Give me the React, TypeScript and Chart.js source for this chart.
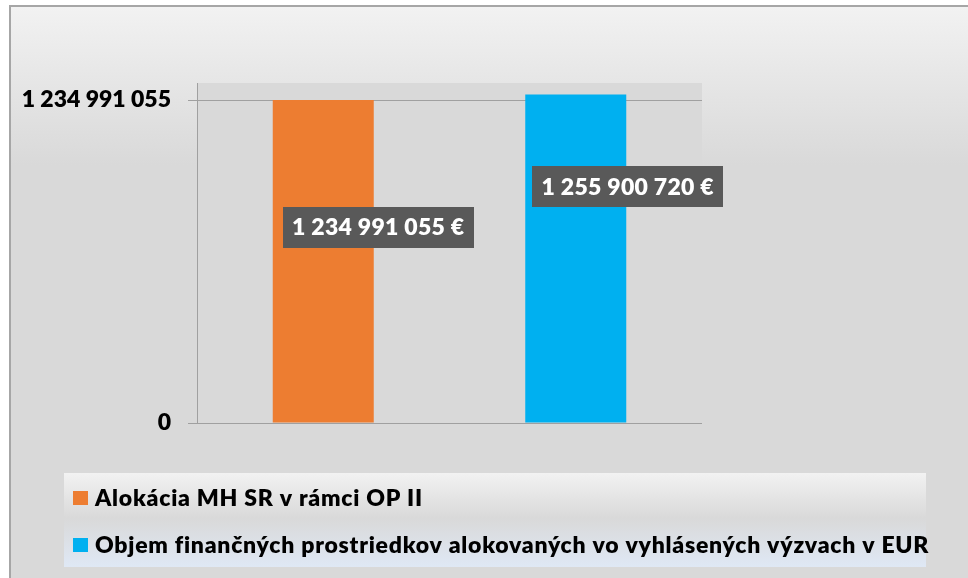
import React, { useEffect, useRef } from "react";
import { Chart, registerables } from "chart.js";

Chart.register(...registerables);

// ---- data ----
const categories = ["Alokácia", "Objem"];
const seriesNames = [
  "Alokácia MH SR v rámci OP II",
  "Objem finančných prostriedkov alokovaných vo vyhlásených výzvach v EUR",
];
const allocationValues: (number | null)[] = [1234991055, null];
const callsValues: (number | null)[] = [null, 1255900720];
const yTickValues = [0, 1234991055];
const yMax = 1300000000;

// ---- styles ----
const COLORS = ["#ED7D31", "#00B0F0"];
const FONT = "Lato, 'Open Sans', sans-serif";
const WEIGHT = "800";
const AXIS_GRAY = "#a0a0a0";
const LABEL_OFFSETS = [
  { dx: 55, dy: 127 },
  { dx: 52, dy: 92 },
];

const fmt = (v: number) =>
  String(Math.round(v)).replace(/\B(?=(\d{3})+(?!\d))/g, " ");

const backgroundPlugin = {
  id: "bgPlugin",
  beforeDraw(chart: any) {
    const { ctx, width, height, chartArea } = chart;
    ctx.save();
    ctx.fillStyle = "#ffffff";
    ctx.fillRect(0, 0, width, height);
    const g = ctx.createLinearGradient(0, 6, 0, 165);
    g.addColorStop(0, "#f2f2f2");
    g.addColorStop(1, "#d9d9d9");
    ctx.fillStyle = g;
    ctx.fillRect(10, 6, width - 10, height - 6);
    // border
    ctx.fillStyle = "#a6a6a6";
    ctx.fillRect(9, 5, width - 9, 2);
    ctx.fillRect(9, 5, 2, height - 5);
    // plot area
    ctx.fillStyle = "#d9d9d9";
    ctx.fillRect(
      chartArea.left,
      chartArea.top,
      chartArea.right - chartArea.left,
      chartArea.bottom - chartArea.top
    );
    ctx.restore();
  },
};

const dataLabelPlugin = {
  id: "dataLabels",
  afterDatasetsDraw(chart: any) {
    const { ctx } = chart;
    ctx.save();
    ctx.font = `${WEIGHT} 23px ${FONT}`;
    (ctx as any).letterSpacing = "0.3px";
    ctx.textAlign = "center";
    ctx.textBaseline = "middle";
    chart.data.datasets.forEach((ds: any, i: number) => {
      const meta = chart.getDatasetMeta(i);
      ds.data.forEach((v: number | null, j: number) => {
        if (v == null) return;
        const el = meta.data[j];
        const off = LABEL_OFFSETS[i];
        const text = fmt(v) + " €";
        const w = 191;
        const h = 41;
        const cx = el.x + off.dx;
        const cy = el.y + off.dy;
        ctx.fillStyle = "#595959";
        ctx.fillRect(Math.round(cx - w / 2), Math.round(cy - h / 2), w, h);
        ctx.fillStyle = "#ffffff";
        ctx.fillText(text, cx, cy + 1);
      });
    });
    ctx.restore();
  },
};

const legendPlugin = {
  id: "customLegend",
  afterDraw(chart: any) {
    const { ctx } = chart;
    const x0 = 64,
      y0 = 473,
      x1 = 926,
      y1 = 567;
    ctx.save();
    const g = ctx.createLinearGradient(0, y0, 0, y1);
    g.addColorStop(0, "#f2f2f2");
    g.addColorStop(0.48, "#d9d9d9");
    g.addColorStop(1, "#dfe8f5");
    ctx.fillStyle = g;
    ctx.fillRect(x0, y0, x1 - x0, y1 - y0);
    ctx.font = `${WEIGHT} 23px ${FONT}`;
    (ctx as any).letterSpacing = "0.75px";
    ctx.textBaseline = "middle";
    ctx.textAlign = "left";
    chart.data.datasets.forEach((ds: any, i: number) => {
      const cy = 498 + i * 47;
      ctx.fillStyle = ds.backgroundColor;
      ctx.fillRect(73, cy - 7, 15, 14);
      ctx.fillStyle = "#000000";
      ctx.fillText(ds.label, 95, cy + 1);
    });
    ctx.restore();
  },
};

export default function App() {
  const ref = useRef<HTMLCanvasElement | null>(null);
  useEffect(() => {
    document.body.style.margin = "0";
    const canvas = ref.current!;
    const chart = new Chart(canvas, {
      type: "bar",
      data: {
        labels: categories,
        datasets: [
          {
            label: seriesNames[0],
            data: allocationValues,
            backgroundColor: COLORS[0],
          },
          {
            label: seriesNames[1],
            data: callsValues,
            backgroundColor: COLORS[1],
          },
        ],
      },
      options: {
        responsive: false,
        animation: false,
        devicePixelRatio: 1,
        skipNull: true,
        layout: { padding: { left: 0, top: 83, right: 266, bottom: 155 } },
        datasets: {
          bar: { categoryPercentage: 0.4, barPercentage: 1 },
        },
        plugins: {
          legend: { display: false },
          tooltip: { enabled: false },
          title: { display: false },
        },
        scales: {
          x: { display: false },
          y: {
            min: 0,
            max: yMax,
            afterFit(scale: any) {
              scale.width = 197;
            },
            afterBuildTicks(scale: any) {
              scale.ticks = yTickValues.map((v) => ({ value: v }));
            },
            grid: {
              color: AXIS_GRAY,
              lineWidth: 1,
              tickLength: 9,
              drawTicks: true,
            },
            border: { display: true, color: AXIS_GRAY, width: 1 },
            ticks: {
              color: "#000000",
              padding: 17,
              font: { family: FONT, weight: WEIGHT, size: 23 },
              callback: (v: any) => fmt(Number(v)),
            },
          },
        },
      } as any,
      plugins: [backgroundPlugin, dataLabelPlugin, legendPlugin],
    });
    return () => chart.destroy();
  }, []);
  return <canvas ref={ref} width={968} height={578} style={{ display: "block" }} />;
}
